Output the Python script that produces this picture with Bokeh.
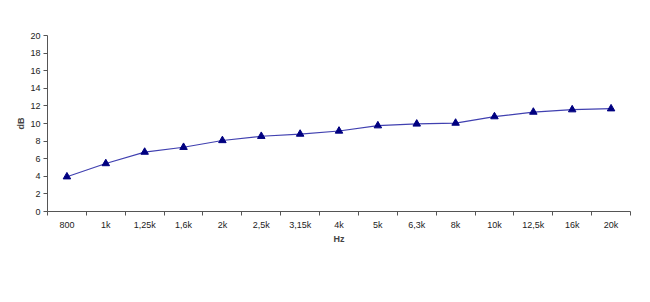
from bokeh.plotting import figure
from bokeh.models import Range1d, FixedTicker
from bokeh.embed import file_html
from bokeh.resources import INLINE

categories = ["800", "1k", "1,25k", "1,6k", "2k", "2,5k", "3,15k", "4k", "5k",
              "6,3k", "8k", "10k", "12,5k", "16k", "20k"]
values = [3.95, 5.45, 6.75, 7.3, 8.07, 8.55, 8.8, 9.15, 9.75, 9.95, 10.05,
          10.78, 11.3, 11.57, 11.68]
y_ticks = list(range(0, 21, 2))

n = len(categories)
xs = [i + 0.5 for i in range(n)]

p = figure(width=650, height=302, output_backend="svg", toolbar_location=None,
           x_range=Range1d(0, n), y_range=Range1d(0, 20),
           min_border_left=47, min_border_right=20, min_border_top=35,
           min_border_bottom=91)
p.frame_width = 583
p.frame_height = 176
p.outline_line_color = None
p.background_fill_color = "white"
p.border_fill_color = "white"
p.xgrid.visible = False
p.ygrid.visible = False

p.line(xs, values, line_color="#4040b0", line_width=1.2)
p.scatter(xs, values, marker="triangle", size=7.5, fill_color="#000080",
          line_color="#000080")

font = "Liberation Sans"
xa = p.xaxis[0]
xa.ticker = FixedTicker(ticks=xs, minor_ticks=list(range(n + 1)))
xa.major_label_overrides = {x: c for x, c in zip(xs, categories)}
xa.major_tick_out = 0
xa.major_tick_in = 0
xa.minor_tick_out = 4
xa.minor_tick_in = 0
xa.axis_line_color = "#555555"
xa.minor_tick_line_color = "#555555"
xa.major_label_text_font = font
xa.major_label_text_font_size = "9px"
xa.major_label_text_color = "#222222"
xa.major_label_standoff = 4
xa.axis_label = "Hz"
xa.axis_label_text_font = font
xa.axis_label_text_font_size = "9px"
xa.axis_label_text_font_style = "bold"
xa.axis_label_standoff = 1

ya = p.yaxis[0]
ya.ticker = FixedTicker(ticks=y_ticks, minor_ticks=[])
ya.major_tick_out = 4
ya.major_tick_in = 0
ya.axis_line_color = "#555555"
ya.major_tick_line_color = "#555555"
ya.major_label_text_font = font
ya.major_label_text_font_size = "9px"
ya.major_label_text_color = "#222222"
ya.major_label_standoff = 3
ya.axis_label = "dB"
ya.axis_label_text_font = font
ya.axis_label_text_font_size = "9px"
ya.axis_label_text_font_style = "bold"
ya.axis_label_standoff = 1

open("out.html", "w").write(file_html(p, INLINE))
